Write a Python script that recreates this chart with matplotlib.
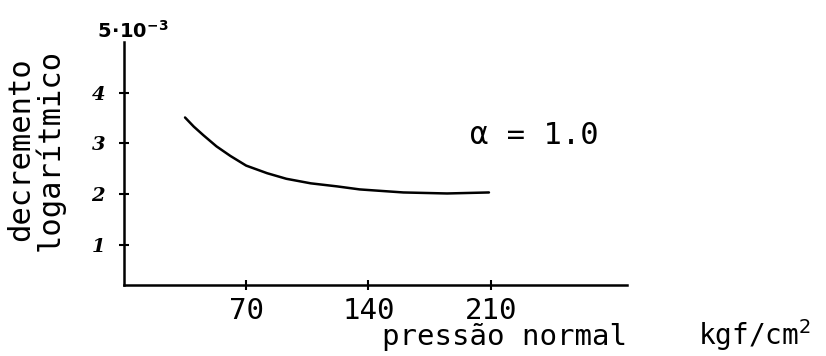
import matplotlib
matplotlib.use("Agg")
import matplotlib.pyplot as plt

# pressure (kgf/cm2) and log decrement (x 10^-3)
pressure = [35, 40, 45.5, 53, 61, 70, 82, 93, 107, 122, 135, 160, 185, 209]
decrement = [3.51, 3.33, 3.16, 2.94, 2.75, 2.56, 2.41, 2.30, 2.21, 2.15,
             2.09, 2.03, 2.01, 2.03]
xticks = [70, 140, 210]
yticks = [1, 2, 3, 4]

mono = "DejaVu Sans Mono"

fig = plt.figure(figsize=(8.26, 3.56), dpi=100)
ax = fig.add_axes([0.150, 0.199, 0.609, 0.683])

ax.plot(pressure, decrement, color="black", lw=1.8, solid_capstyle="round",
        solid_joinstyle="round")

ax.set_xlim(0, 288)
ax.set_ylim(0.2, 5.0)
for s in ["top", "right"]:
    ax.spines[s].set_visible(False)
for s in ["left", "bottom"]:
    ax.spines[s].set_linewidth(1.8)

ax.set_xticks(xticks)
ax.set_xticklabels([str(v) for v in xticks], fontfamily=mono, fontsize=21)
ax.set_yticks(yticks)
ax.set_yticklabels([str(v) for v in yticks], fontfamily="DejaVu Serif",
                   fontstyle="italic", fontweight="bold", fontsize=14)
ax.tick_params(axis="both", direction="inout", length=7, width=1.5)
ax.tick_params(axis="x", pad=5)
ax.tick_params(axis="y", pad=10)

ax.text(5, 5.0, r"$\mathbf{5\!\cdot\!10^{-3}}$", ha="center", va="bottom",
        fontsize=14)
ax.text(235, 3.15, "\u03b1 = 1.0", fontfamily=mono, fontsize=22,
        ha="center", va="center")

fig.text(0.043, 0.58, "decremento\nlogar\u00edtmico", rotation=90,
         fontfamily=mono, fontsize=22, ha="center", va="center",
         linespacing=0.95)
fig.text(0.463, 0.03, "press\u00e3o normal", fontfamily=mono, fontsize=21,
         ha="left", va="baseline")
fig.text(0.982, 0.03, "kgf/cm$^2$", fontfamily=mono, fontsize=20,
         ha="right", va="baseline")

fig.savefig("out.png", dpi=100)
